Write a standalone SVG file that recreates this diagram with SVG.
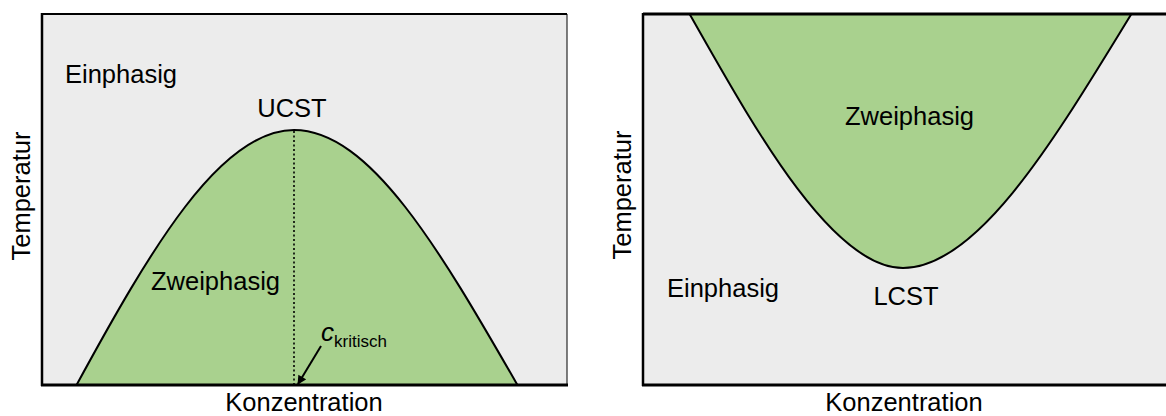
<svg xmlns="http://www.w3.org/2000/svg" width="1166" height="416" viewBox="0 0 1166 416">
<defs>
<style>
.t{font-family:"Liberation Sans",Arial,sans-serif;font-size:25.5px;fill:#000}
.bg{fill:#ececec}
.ph{fill:#a9d18e;stroke:#000;stroke-width:2}
.ax{stroke:#000;fill:none}
</style>
<marker id="ah" viewBox="0 0 10 10" refX="9" refY="5" markerWidth="11" markerHeight="9" orient="auto" markerUnits="userSpaceOnUse">
<path d="M0,0 L10,5 L0,10 z" fill="#000"/>
</marker>
<clipPath id="cl"><rect x="42" y="14" width="525" height="371"/></clipPath>
<clipPath id="cr"><rect x="643" y="14" width="523" height="371"/></clipPath>
</defs>
<rect width="1166" height="416" fill="#fff"/>
<g id="ucst-plot">
<rect class="bg" x="42" y="14" width="525" height="371"/>
<path class="ph" clip-path="url(#cl)" d="M76,386 C150,250 220,130 294,130 C370,130 440,250 518,386 Z"/>
<line x1="294" y1="131" x2="294" y2="385" stroke="#000" stroke-width="1.6" stroke-dasharray="2,2.5"/>
<line class="ax" x1="567" y1="14" x2="567" y2="385" stroke="#777" stroke-width="1"/>
<line class="ax" x1="42" y1="14" x2="567" y2="14" stroke-width="2"/>
<line class="ax" x1="42" y1="13" x2="42" y2="386" stroke-width="2.5"/>
<line class="ax" x1="41" y1="385" x2="568" y2="385" stroke-width="3"/>
<text class="t" x="65" y="83">Einphasig</text>
<text class="t" x="292" y="117" text-anchor="middle">UCST</text>
<text class="t" x="151" y="290">Zweiphasig</text>
<text class="t" x="30" y="196" text-anchor="middle" transform="rotate(-90 30 196)">Temperatur</text>
<text class="t" x="304" y="411" text-anchor="middle">Konzentration</text>
<text class="t" x="321" y="341" style="font-style:italic;font-size:26px">c</text>
<text class="t" x="334" y="347" style="font-size:17px">kritisch</text>
</g>
<g id="lcst-plot">
<rect class="bg" x="643" y="14" width="523" height="371"/>
<path class="ph" clip-path="url(#cr)" d="M689,13 C750,120 830,268 903,268 C980,268 1060,130 1132,13 Z"/>
<line class="ax" x1="643" y1="14" x2="1166" y2="14" stroke-width="3"/>
<line class="ax" x1="643" y1="13" x2="643" y2="386" stroke-width="2.5"/>
<line class="ax" x1="642" y1="385" x2="1166" y2="385" stroke-width="3"/>
<text class="t" x="845" y="125">Zweiphasig</text>
<text class="t" x="667" y="297">Einphasig</text>
<text class="t" x="906" y="305" text-anchor="middle">LCST</text>
<text class="t" x="631" y="195" text-anchor="middle" transform="rotate(-90 631 195)">Temperatur</text>
<text class="t" x="904" y="411" text-anchor="middle">Konzentration</text>
</g>
<g id="connectors">
<line x1="321" y1="346" x2="298" y2="384" stroke="#000" stroke-width="2" marker-end="url(#ah)"/>
</g>
</svg>
